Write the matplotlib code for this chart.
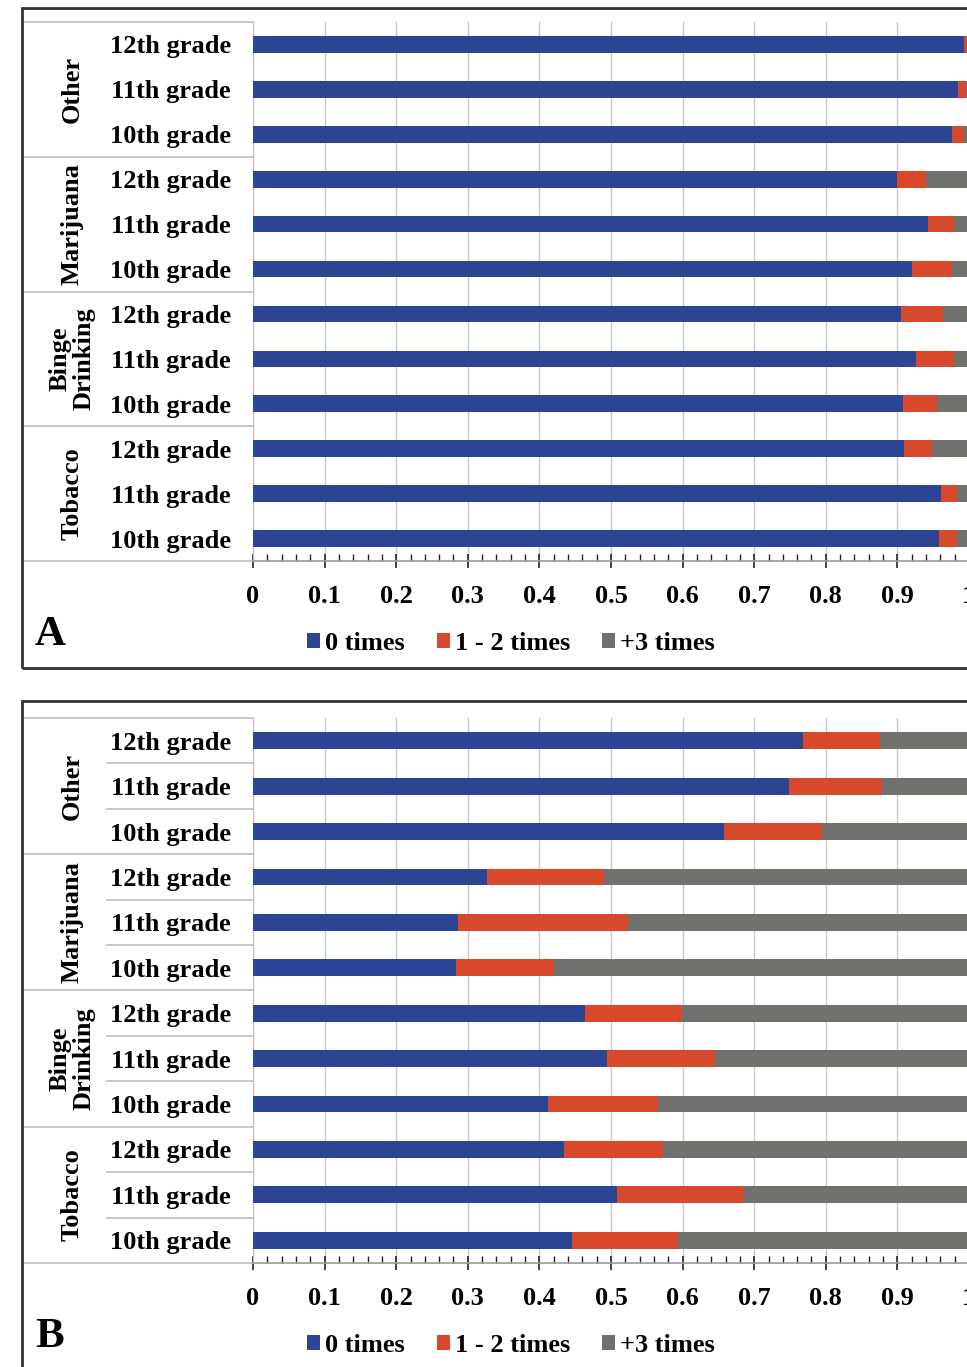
import matplotlib
matplotlib.use("Agg")
import matplotlib.pyplot as plt
from matplotlib.patches import Rectangle
from matplotlib.transforms import blended_transform_factory
from matplotlib.ticker import MultipleLocator

plt.rcParams['font.family'] = ['Liberation Serif', 'DejaVu Serif']
plt.rcParams['font.weight'] = 'bold'

# rows listed bottom -> top
groups = ['Tobacco', 'Binge\nDrinking', 'Marijuana', 'Other']
grades = ['10th grade', '11th grade', '12th grade']
series = ['0 times', '1 - 2 times', '+3 times']
colors = ['#2B4594', '#D8482A', '#70706C']
xticks = [0, 0.1, 0.2, 0.3, 0.4, 0.5, 0.6, 0.7, 0.8, 0.9, 1.0]
xtick_labels = ['0', '0.1', '0.2', '0.3', '0.4', '0.5', '0.6', '0.7', '0.8', '0.9', '1']

# Panel A
zero_a = [0.958, 0.961, 0.909, 0.908, 0.926, 0.905, 0.921, 0.943, 0.900, 0.976, 0.984, 0.993]
once_a = [0.025, 0.022, 0.040, 0.048, 0.053, 0.059, 0.055, 0.036, 0.040, 0.017, 0.012, 0.005]
three_a = [0.017, 0.017, 0.051, 0.044, 0.021, 0.036, 0.024, 0.021, 0.060, 0.007, 0.004, 0.002]

# Panel B
zero_b = [0.446, 0.509, 0.434, 0.412, 0.495, 0.463, 0.283, 0.286, 0.327, 0.658, 0.748, 0.768]
once_b = [0.147, 0.177, 0.138, 0.154, 0.150, 0.136, 0.138, 0.238, 0.163, 0.136, 0.131, 0.108]
three_b = [0.407, 0.314, 0.428, 0.434, 0.355, 0.401, 0.579, 0.476, 0.510, 0.206, 0.121, 0.124]

W, H = 967, 1367
fig = plt.figure(figsize=(W / 100, H / 100), dpi=100)


def fx(x):
    return x / W


def fy(y):
    return 1 - y / H


def panel(top, bottom, frame_top, frame_bottom, legend_y, letter, data, inner_lines):
    ax = fig.add_axes([fx(253), fy(bottom), fx(969) - fx(253), fy(top) - fy(bottom)])
    ypos = list(range(len(data[0])))
    left = [0] * len(ypos)
    handles = []
    for vals, col, name in zip(data, colors, series):
        b = ax.barh(ypos, vals, left=left, height=0.37, color=col, label=name, zorder=3)
        handles.append(b)
        left = [l + v for l, v in zip(left, vals)]

    ax.set_xticks(xticks, labels=xtick_labels)
    ax.xaxis.set_minor_locator(MultipleLocator(0.02))
    ax.set_xlim(0, 1.0)
    ax.set_ylim(-0.5, len(ypos) - 0.5)
    ax.tick_params(axis='x', which='major', direction='inout', length=10, width=1.2,
                   labelsize=19, pad=12, color='#222222')
    ax.tick_params(axis='x', which='minor', direction='in', length=5, width=1, color='#222222')
    ax.set_yticks(ypos)
    ax.set_yticklabels(grades * len(groups))
    ax.tick_params(axis='y', length=0, labelsize=19, pad=16)
    ax.grid(axis='x', which='major', color='#c8c8c8', lw=1, zorder=0)

    for s in ['top', 'right']:
        ax.spines[s].set_visible(False)
    ax.spines['left'].set_color('#c0c0c0')
    ax.spines['bottom'].set_color('#999999')
    ax.spines['bottom'].set_linewidth(1.2)

    tr = blended_transform_factory(fig.transFigure, ax.transData)
    # table lines on the left
    for k in range(len(groups) + 1):
        yb = k * 3 - 0.5
        ax.plot([fx(22), fx(253)], [yb, yb], transform=tr, color='#bdbdbd', lw=1.2, clip_on=False)
    if inner_lines:
        for r in range(len(ypos) - 1):
            if (r + 1) % 3:
                ax.plot([fx(107), fx(253)], [r + 0.5, r + 0.5], transform=tr,
                        color='#bdbdbd', lw=1.2, clip_on=False)
    for k, g in enumerate(groups):
        ax.text(fx(72), k * 3 + 1, g, transform=tr, rotation=90, ha='center', va='center',
                fontsize=19, linespacing=1.05)

    # outer frame
    fig.add_artist(Rectangle((fx(22), fy(frame_bottom)), fx(1100) - fx(22),
                             fy(frame_top) - fy(frame_bottom), transform=fig.transFigure,
                             fill=False, edgecolor='#333333', lw=2))
    fig.text(fx(50), fy(legend_y - 8), letter, fontsize=31, ha='center', va='center')
    fig.legend(handles=handles, loc='center', bbox_to_anchor=(fx(511), fy(legend_y)),
               ncol=3, frameon=False, fontsize=19, handlelength=0.5, handleheight=0.5,
               handletextpad=0.2, columnspacing=1.2)


panel(22, 561, 8, 668, 643, 'A', [zero_a, once_a, three_a], False)
panel(718, 1263, 701, 1420, 1345, 'B', [zero_b, once_b, three_b], True)

fig.savefig('out.png', dpi=100)
